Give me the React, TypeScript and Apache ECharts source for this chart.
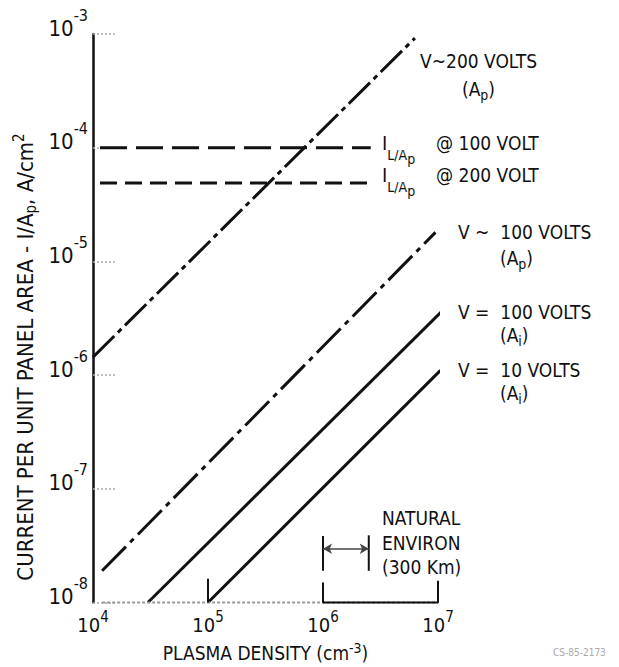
import React, { useEffect, useRef } from 'react';
import * as echarts from 'echarts';

// Plasma density (cm^-3) and current per unit panel area (A/cm^2)
const densityV200Ap = [1e4, 6.3e6];
const currentV200Ap = [1.44e-6, 9.2e-4];

const densityV100Ap = [1.2e4, 9.5e6];
const currentV100Ap = [1.9e-8, 1.8e-5];

const densityV100Ai = [3.0e4, 1.1e7];
const currentV100Ai = [1e-8, 3.7e-6];

const densityV10Ai = [1e5, 1.05e7];
const currentV10Ai = [1e-8, 1.1e-6];

const densityIL100 = [1.15e4, 2.6e6];
const currentIL100 = [1e-4, 1e-4];

const densityIL200 = [1.15e4, 2.5e6];
const currentIL200 = [4.9e-5, 4.9e-5];

// axis base (dotted) and brackets
const densityBase = [1.2e4, 1e7];
const currentBase = [1e-8, 1e-8];
const densityTick5 = [1e5, 1e5];
const currentTick5 = [1.62e-8, 1e-8];
const densityBracketLow = [1e6, 1e6, 1e7, 1e7];
const currentBracketLow = [1.5e-8, 1e-8, 1e-8, 1.55e-8];
const densityEnvLeft = [1e6, 1e6];
const currentEnvLeft = [3.85e-8, 1.9e-8];
const densityEnvRight = [2.5e6, 2.5e6];
const currentEnvRight = [3.9e-8, 1.9e-8];
const densityEnvArrow = [1e6, 2.5e6];
const currentEnvArrow = [2.97e-8, 2.97e-8];

const xMin = 1e4;
const xMax = 1e7;
const yMin = 1e-8;
const yMax = 1e-3;

const FONT = "'Liberation Sans Narrow', 'DejaVu Sans Condensed', 'Liberation Sans', sans-serif";
const INK = '#111';

function pair(xs: number[], ys: number[]) {
  return xs.map((x, i) => [x, ys[i]]);
}

function lineSeries(name: string, xs: number[], ys: number[], type: any, width = 3, color = INK) {
  return {
    type: 'line',
    name,
    data: pair(xs, ys),
    symbol: 'none',
    clip: false,
    silent: true,
    lineStyle: { color, width, type, cap: 'butt' },
  };
}

const subStyle = (fs: number, pad: number) => ({ fontSize: fs, fontFamily: FONT, fill: INK, padding: [pad, 0, 0, 0] });

function label(text: string, x: number, y: number, fontSize = 19, align = 'left', rich: any = {}) {
  return {
    type: 'text',
    x,
    y,
    silent: true,
    style: {
      text,
      fontSize,
      fontFamily: FONT,
      fill: INK,
      align,
      verticalAlign: 'middle',
      rich,
    },
  };
}

const subRich = { s: subStyle(14, 11) };
const ilRich = { s: subStyle(14, 24), ss: subStyle(14, 32) };

export default function App() {
  const ref = useRef<HTMLDivElement>(null);
  useEffect(() => {
    if (!ref.current) return;
    const chart = echarts.init(ref.current, null, { renderer: 'svg' });
    const expFmt = (v: number) => `{b|10}{s|${Math.round(Math.log10(v))}}`;
    chart.setOption({
      animation: false,
      backgroundColor: '#fff',
      grid: { left: 93, right: 181, top: 34, bottom: 60, containLabel: false },
      xAxis: {
        type: 'log',
        logBase: 10,
        min: xMin,
        max: xMax,
        axisLine: { show: false },
        axisTick: { show: false },
        splitLine: { show: false },
        minorTick: { show: false },
        axisLabel: {
          margin: 7,
          formatter: expFmt,
          rich: {
            b: { fontSize: 20, fontFamily: FONT, color: INK },
            s: { fontSize: 15, fontFamily: FONT, color: INK, padding: [0, 0, 16, 0] },
          },
        },
        name: 'PLASMA DENSITY (cm{u|-3})',
        nameLocation: 'middle',
        nameGap: 38,
        nameTextStyle: {
          fontSize: 19,
          fontFamily: FONT,
          color: INK,
          rich: {
            u: { fontSize: 14, fontFamily: FONT, color: INK, padding: [0, 0, 10, 0] },
          },
        },
      },
      yAxis: {
        type: 'log',
        logBase: 10,
        min: yMin,
        max: yMax,
        axisLine: { show: true, lineStyle: { color: INK, width: 2.5 } },
        axisTick: { show: true, inside: true, length: 22, lineStyle: { color: '#aaa', width: 1.5, type: [2, 2] } },
        splitLine: { show: false },
        minorTick: { show: false },
        axisLabel: {
          margin: 5,
          padding: [0, 0, 12, 0],
          formatter: expFmt,
          rich: {
            b: { fontSize: 22, fontFamily: FONT, color: INK },
            s: { fontSize: 16, fontFamily: FONT, color: INK, padding: [0, 0, 26, 0] },
          },
        },
      },
      series: [
        lineSeries('V~200 VOLTS (Ap)', densityV200Ap, currentV200Ap, [30, 5, 5, 5]),
        lineSeries('V~100 VOLTS (Ap)', densityV100Ap, currentV100Ap, [34, 6, 5, 6]),
        lineSeries('V=100 VOLTS (Ai)', densityV100Ai, currentV100Ai, 'solid'),
        lineSeries('V=10 VOLTS (Ai)', densityV10Ai, currentV10Ai, 'solid'),
        lineSeries('IL/Ap @100 VOLT', densityIL100, currentIL100, [27, 9]),
        lineSeries('IL/Ap @200 VOLT', densityIL200, currentIL200, [17, 8]),
        lineSeries('base', densityBase, currentBase, [3, 2], 2, '#999'),
        lineSeries('tick 1e5', densityTick5, currentTick5, 'solid', 2),
        lineSeries('bracket', densityBracketLow, currentBracketLow, 'solid', 2),
        lineSeries('env left', densityEnvLeft, currentEnvLeft, 'solid', 2),
        {
          ...lineSeries('env right', densityEnvRight, currentEnvRight, 'solid', 2),
          markLine: {
            silent: true,
            symbol: ['arrow', 'arrow'],
            symbolSize: [8, 9],
            label: { show: false },
            lineStyle: { color: '#444', width: 1.5, type: 'solid' },
            data: [[{ coord: pair(densityEnvArrow, currentEnvArrow)[0] }, { coord: pair(densityEnvArrow, currentEnvArrow)[1] }]],
          },
        },
      ],
      graphic: [
        {
          type: 'text',
          x: 25,
          y: 357,
          rotation: Math.PI / 2,
          silent: true,
          style: {
            text: 'CURRENT PER UNIT PANEL AREA - I/A{s|p}, A/cm{u|2}',
            fontSize: 22,
            fontFamily: FONT,
            fill: INK,
            align: 'center',
            verticalAlign: 'middle',
            rich: {
              s: subStyle(15, 12),
              u: { fontSize: 15, fontFamily: FONT, fill: INK, padding: [0, 0, 13, 0] },
            },
          },
        },
        label('V~200 VOLTS', 420, 61),
        label('(A{s|p})', 462, 89, 19, 'left', subRich),
        label('I{s|L/A}{ss|p}', 382, 143, 20, 'left', ilRich),
        label('@ 100 VOLT', 436, 143),
        label('I{s|L/A}{ss|p}', 382, 175, 20, 'left', ilRich),
        label('@ 200 VOLT', 436, 175),
        label('V ~  100 VOLTS', 458, 232),
        label('(A{s|p})', 500, 258, 19, 'left', subRich),
        label('V =  100 VOLTS', 458, 312),
        label('(A{s|i})', 500, 335, 19, 'left', subRich),
        label('V =  10 VOLTS', 458, 370),
        label('(A{s|i})', 500, 393, 19, 'left', subRich),
        label('NATURAL', 382, 518),
        label('ENVIRON', 382, 543),
        label('(300 Km)', 382, 567),
        {
          type: 'text',
          x: 553,
          y: 652,
          silent: true,
          style: { text: 'CS-85-2173', fontSize: 10, fontFamily: FONT, fill: '#aaa', align: 'left', verticalAlign: 'middle' },
        },
      ],
    });
    return () => chart.dispose();
  }, []);
  return <div ref={ref} style={{ position: 'fixed', left: 0, top: 0, width: 619, height: 667, background: '#fff' }} />;
}
